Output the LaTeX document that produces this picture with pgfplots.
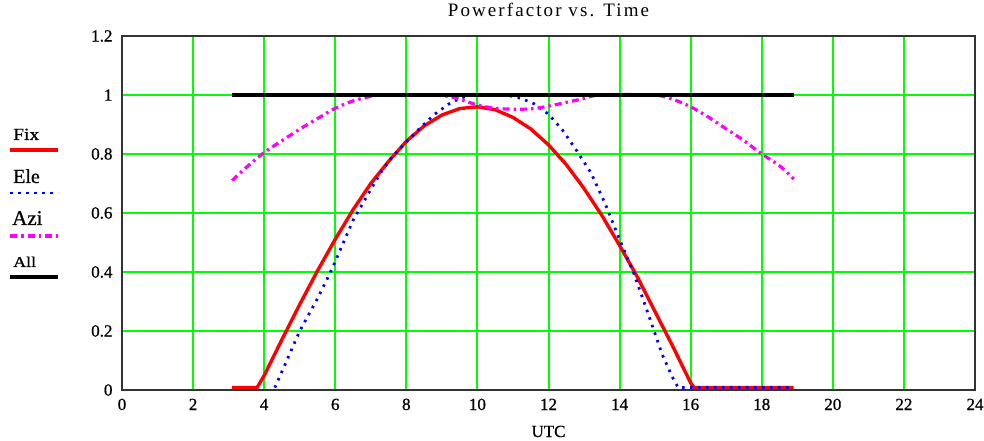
\documentclass[border=0pt]{standalone}
\usepackage{pgfplots}
\pgfplotsset{compat=1.18}
\usepackage{fontspec}
\setmainfont{Liberation Serif}
\newfontfamily\titlefont{Liberation Serif}[LetterSpace=11]
\newfontfamily\tickfont{Liberation Serif}[FakeBold=0.8]
\definecolor{pgreen}{RGB}{0,255,0}
\definecolor{pred}{RGB}{255,0,0}
\definecolor{pblue}{RGB}{0,0,255}
\definecolor{pmag}{RGB}{255,0,255}
\begin{document}
\begin{tikzpicture}
\useasboundingbox (0,0) rectangle (984pt,441pt);
\begin{axis}[
  at={(122pt,51pt)}, anchor=south west,
  scale only axis, width=853pt, height=354pt,
  xmin=0, xmax=24, ymin=0, ymax=1.2,
  clip=false, axis on top=false,
  xtick={0,2,4,6,8,10,12,14,16,18,20,22,24},
  ytick={0,0.2,0.4,0.6,0.8,1,1.2},
  grid=major,
  major grid style={draw=pgreen, line width=2pt},
  axis line style={line width=2pt, black!80},
  tick style={draw=none},
  /pgf/number format/assume math mode=true,
  ticklabel style={font=\tickfont\fontsize{17}{20}\selectfont},
  xticklabel style={anchor=base, yshift=-20pt},
  yticklabel style={anchor=east, xshift=-6pt},
  title={\titlefont\fontsize{19}{22}\selectfont Powerfactor vs. Time},
  title style={at={(0.5,1)}, anchor=base, yshift=13pt},
  xlabel={\tickfont\fontsize{17}{20}\selectfont UTC},
  xlabel style={at={(0.5,0)}, anchor=base, yshift=-47pt},
]
% Fix
\addplot[pred, line width=3.4pt] coordinates {
(3.1,0.008) (3.8,0.008) (4.0,0.049) (4.5,0.171) (5.0,0.290) (5.5,0.404) (6.0,0.511)
(6.5,0.611) (7.0,0.700) (7.5,0.775) (8.0,0.843) (8.5,0.895) (9.0,0.932)
(9.5,0.954) (10.0,0.960) (10.5,0.950) (11.0,0.924) (11.5,0.885) (12.0,0.831)
(12.5,0.764) (13.0,0.683) (13.5,0.592) (14.0,0.490) (14.5,0.383) (15.0,0.265)
(15.5,0.147) (16.0,0.024) (16.1,0.008) (18.9,0.008)};
% Ele
\addplot[pblue, line width=2.8pt, dash pattern=on 2.5pt off 5.5pt] coordinates {
(4.3,0.008) (4.6,0.09) (5.0,0.20) (5.5,0.31) (5.9,0.408) (6.5,0.575) (7.0,0.68)
(7.3,0.74) (7.6,0.79) (8.0,0.84) (8.4,0.89) (8.8,0.935) (9.2,0.97) (9.5,0.988)
(9.8,1.0) (10.8,1.0) (11.2,0.99) (11.6,0.97) (12.0,0.935) (12.4,0.88) (12.8,0.81)
(13.2,0.735) (13.6,0.63) (14.0,0.51) (14.4,0.395) (14.8,0.26) (15.2,0.12)
(15.5,0.04) (15.65,0.008) (18.9,0.008)};
% Azi
\addplot[pmag, line width=3.2pt, dash pattern=on 7pt off 4pt on 2.5pt off 4pt, smooth] coordinates {
(3.1,0.71) (3.5,0.755) (4.0,0.805) (4.5,0.845) (5.0,0.884) (5.5,0.92) (6.0,0.955)
(6.5,0.98) (7.0,0.995) (7.35,1.0) (8.7,1.0) (9.2,0.995) (9.5,0.986) (10.0,0.966)
(10.5,0.955) (11.0,0.952) (11.5,0.953) (12.0,0.962) (12.5,0.975) (13.0,0.988)
(13.45,1.0) (14.95,1.0) (15.5,0.985) (16.0,0.96) (16.5,0.925) (17.0,0.885)
(17.5,0.845) (18.0,0.80) (18.5,0.76) (18.9,0.715)};
% All
\addplot[black, line width=3.4pt] coordinates {(3.1,1) (18.9,1)};
\end{axis}
% legend
\node[anchor=base west, inner sep=0, font=\tickfont\fontsize{17}{18}\selectfont] at (13pt,301pt) {\scalebox{1.15}[1]{Fix}};
\draw[pred, line width=3.4pt] (10pt,291pt) -- (58pt,291pt);
\node[anchor=base west, inner sep=0, font=\tickfont\fontsize{20}{22}\selectfont] at (13pt,258pt) {Ele};
\draw[pblue, line width=2.8pt, dash pattern=on 2.5pt off 5.5pt] (10pt,248pt) -- (58pt,248pt);
\node[anchor=base west, inner sep=0, font=\tickfont\fontsize{21}{22}\selectfont] at (12pt,216pt) {Azi};
\draw[pmag, line width=3.2pt, dash pattern=on 7pt off 4pt on 2.5pt off 4pt] (10pt,205pt) -- (58pt,205pt);
\node[anchor=base west, inner sep=0, font=\tickfont\fontsize{15}{18}\selectfont] at (13pt,174pt) {\scalebox{1.2}[1]{All}};
\draw[black, line width=3.4pt] (10pt,164pt) -- (58pt,164pt);
\end{tikzpicture}
\end{document}
